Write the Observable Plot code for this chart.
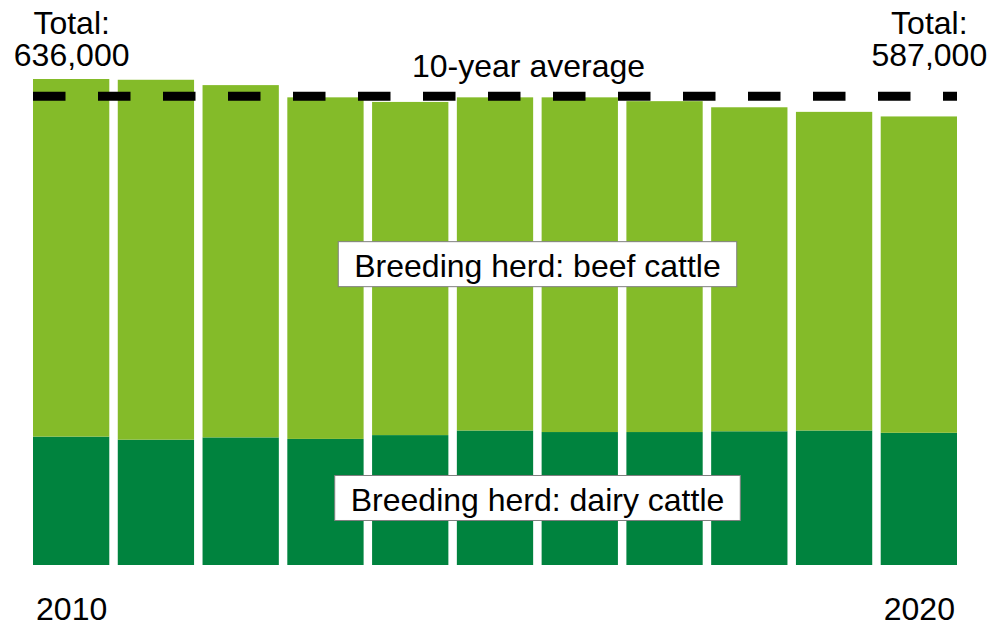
<!DOCTYPE html>
<html><head><meta charset="utf-8">
<script src="https://cdn.jsdelivr.net/npm/d3@7"></script>
<script src="https://cdn.jsdelivr.net/npm/@observablehq/plot@0.6"></script>
<style>
html,body{margin:0;padding:0;background:#fff;}
#chart svg{display:block;}
</style>
</head><body><div id="chart"></div>
<script>
// Data (thousands of head)
const years = [2010, 2011, 2012, 2013, 2014, 2015, 2016, 2017, 2018, 2019, 2020];
const dairy = [168, 164, 167, 165, 170, 176, 174, 174, 175, 176, 173];
const beef  = [468, 471, 461, 447, 436, 436, 438, 433, 424, 417, 414];
const tenYearAverage = [614];
const seriesNames = ["Breeding herd: dairy cattle", "Breeding herd: beef cattle"];
const seriesColors = ["#00833e", "#84bb29"];
const xTickLabels = [2010, 2020];
const labelYear = 2015;

const rows = [
  ...years.map((year, i) => ({year, series: seriesNames[0], value: dairy[i]})),
  ...years.map((year, i) => ({year, series: seriesNames[1], value: beef[i]}))
];
const totals = years.map((year, i) => ({year, total: dairy[i] + beef[i]}));
const fmt = d3.format(",");
const totalText = d => `Total:\n${fmt(d.total * 1000)}`;

const font = "'Liberation Sans', Arial, sans-serif";

const chart = Plot.plot({
  width: 994,
  height: 627,
  marginTop: 79,
  marginBottom: 62,
  marginLeft: 33,
  marginRight: 37,
  style: {fontFamily: font, fontSize: "32px", color: "#000", background: "#fff"},
  x: {type: "band", domain: years, paddingInner: 0.1, paddingOuter: 0, round: false, axis: null},
  y: {domain: [0, d3.max(totals, d => d.total)], axis: null},
  color: {domain: seriesNames, range: seriesColors},
  marks: [
    Plot.barY(rows, {x: "year", y: "value", fill: "series"}),
    Plot.ruleY(tenYearAverage, {y: d => d, stroke: "#000", strokeWidth: 9, strokeDasharray: "32.5,32.5"}),
    Plot.text(tenYearAverage, {y: d => d, text: () => "10-year average", dx: 33, dy: -19, lineAnchor: "bottom", fontSize: 32, fill: "#000"}),
    Plot.text(totals.filter(d => d.year === years[0]), {x: "year", text: totalText, frameAnchor: "top", lineAnchor: "bottom", dy: -14, fontSize: 32, fill: "#000"}),
    Plot.text(totals.filter(d => d.year === years[years.length - 1]), {x: "year", text: totalText, frameAnchor: "top", lineAnchor: "bottom", dy: -14, dx: 10, fontSize: 32, fill: "#000"}),
    Plot.text(rows.filter(d => d.year === labelYear), Plot.stackY({x: "year", y: "value", text: "series", dx: 42, dy: 2, fontSize: 32, fill: "#000"})),
    Plot.axisX({ticks: xTickLabels, tickSize: 0, tickPadding: 32, tickFormat: d => `${d}`, fontSize: 32, fill: "#000", label: null})
  ]
});

document.getElementById("chart").append(chart);

// white boxes behind the segment labels
Array.from(chart.querySelectorAll("text"))
  .filter(t => seriesNames.includes(t.textContent))
  .forEach(t => {
    const b = t.getBBox();
    const r = document.createElementNS("http://www.w3.org/2000/svg", "rect");
    r.setAttribute("x", b.x - 16);
    r.setAttribute("y", b.y - 6);
    r.setAttribute("width", b.width + 32);
    r.setAttribute("height", b.height + 9);
    r.setAttribute("fill", "#fff");
    r.setAttribute("stroke", "#7f7f7f");
    r.setAttribute("stroke-width", 1);
    const tr = t.getAttribute("transform");
    if (tr) r.setAttribute("transform", tr);
    t.parentNode.insertBefore(r, t);
  });
</script>
</body></html>
